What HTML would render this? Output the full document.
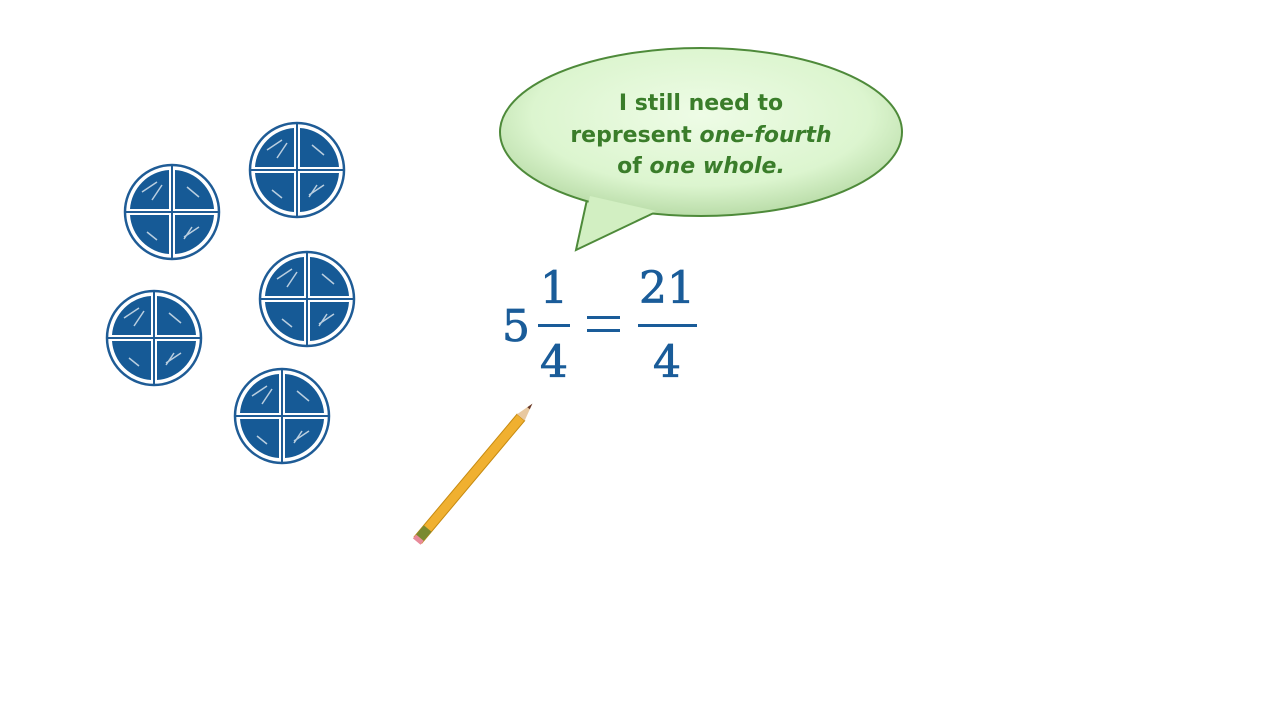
<!DOCTYPE html>
<html><head><style>
html,body{margin:0;padding:0;background:#fff;}
body{width:1265px;height:712px;position:relative;overflow:hidden;}
</style></head><body>
<svg width="1265" height="712" viewBox="0 0 1265 712" xmlns="http://www.w3.org/2000/svg">
<defs>
<radialGradient id="bg" cx="50%" cy="40%" r="60%">
<stop offset="0%" stop-color="#eefce6"/><stop offset="70%" stop-color="#dcf5cf"/><stop offset="100%" stop-color="#b9dca8"/>
</radialGradient>
<g id="disc">
<circle r="47" fill="#fff" stroke="#1f5c96" stroke-width="2.5"/>
<path d="M-3,-3 L-42,-3 A42,42 0 0 1 -3,-42 Z M3,-3 L3,-42 A42,42 0 0 1 42,-3 Z M-3,3 L-42,3 A42,42 0 0 0 -3,42 Z M3,3 L3,42 A42,42 0 0 0 42,3 Z" fill="#165a96"/>
<path d="M-30,-20 l15,-10 M-20,-12 l10,-15 M15,-25 l12,10 M-25,20 l10,8 M20,15 l-8,12 M12,25 l15,-10" stroke="#fff" stroke-width="1.5" opacity=".7"/>
<line x1="-47" y1="0" x2="47" y2="0" stroke="#1f5c96" stroke-width="2"/>
<line x1="0" y1="-47" x2="0" y2="47" stroke="#1f5c96" stroke-width="2"/>
</g>
</defs>
<use href="#disc" x="172" y="212"/>
<use href="#disc" x="297" y="170"/>
<use href="#disc" x="154" y="338"/>
<use href="#disc" x="307" y="299"/>
<use href="#disc" x="282" y="416"/>

<path d="M588,195 L576,250 L660,210 Z" fill="#d2efc2" stroke="#4e8a3a" stroke-width="2"/>
<ellipse cx="701" cy="132" rx="201" ry="84" fill="url(#bg)" stroke="#4e8a3a" stroke-width="2"/>
<path d="M590,196 L578,246 L656,211 Z" fill="#d2efc2"/>
<g font-family="'Comic Sans MS','DejaVu Sans',sans-serif" font-size="22" font-weight="bold" fill="#3a7d2a" text-anchor="middle">
<text x="701" y="110">I still need to</text>
<text x="701" y="142">represent <tspan font-style="italic">one-fourth</tspan></text>
<text x="701" y="173">of <tspan font-style="italic">one whole.</tspan></text>
</g>

<g font-family="'DejaVu Serif','Liberation Serif',serif" font-size="44" fill="#1a5c99" text-anchor="middle" stroke="#1a5c99" stroke-width="0.8">
<text x="516" y="341">5</text>
<text x="554" y="303">1</text>
<text x="554" y="377">4</text>
<text x="667" y="303">21</text>
<text x="667" y="377">4</text>
</g>
<rect x="538" y="324" width="32" height="3" fill="#1a5c99"/>
<rect x="638" y="324" width="59" height="3" fill="#1a5c99"/>
<rect x="587" y="316" width="33" height="3" fill="#1a5c99"/>
<rect x="587" y="329" width="33" height="3" fill="#1a5c99"/>

<g transform="translate(418,540) rotate(-50)">
<rect x="0" y="-5" width="160" height="10" fill="#f0b030" stroke="#c68a10" stroke-width="1"/>
<rect x="-2" y="-5" width="5" height="10" fill="#e88a9a"/>
<rect x="3" y="-5" width="12" height="10" fill="#7a8a30"/>
<path d="M160,-5 L178,0 L160,5 Z" fill="#e8c8a0"/>
<path d="M172,-1.6 L178,0 L172,1.6 Z" fill="#6a3a2a"/>
</g>
</svg>
</body></html>
